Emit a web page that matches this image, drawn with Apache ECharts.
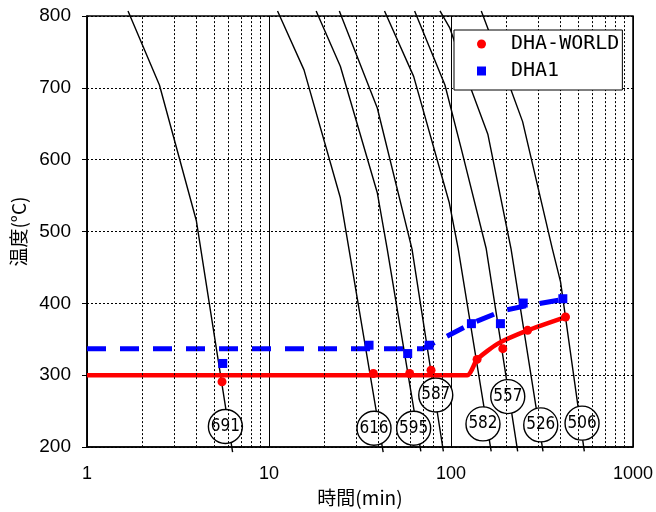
<!DOCTYPE html>
<html><head><meta charset="utf-8">
<script src="https://cdn.jsdelivr.net/npm/echarts@6/dist/echarts.min.js"></script>
<style>html,body{margin:0;padding:0;background:#fff}#c{width:656px;height:512px}</style>
</head><body><div id="c"></div>
<script>
// ---- data ----
const xTickLabels = ['1', '10', '100', '1000'];
const minorGridX = [2,3,4,5,6,7,8,9,20,30,40,50,60,70,80,90,200,300,400,500,600,700,800,900];

// cooling curves [time(min), temperature(°C)]
const curve691 = [[1.68,807],[2.50,704],[3.99,515],[6.31,193]];
const curve616 = [[11.14,807],[15.57,725],[24.66,547],[42.4,193]];
const curve595 = [[18.16,807],[24.66,730],[39.36,554],[44.61,476],[68.3,194]];
const curve587 = [[24.35,807],[39.36,672],[61.04,476],[90.8,194]];
const curve582 = [[43.13,807],[62.35,716],[97.88,540],[109.6,476],[166.3,194]];
const curve557 = [[63.12,807],[92.64,704],[114.2,614],[156.2,476],[232.5,194]];
const curve526 = [[87.0,807],[98.6,783],[129.5,697],[159.6,635],[213.8,476],[320.4,194]];
const curve506 = [[146.7,807],[213.8,697],[247.5,653],[360.6,476],[400.0,430],[540.2,194]];

// circled hardness labels
const labelNames = ['691','616','595','587','582','557','526','506'];
const labelX = [5.76, 37.76, 62.35, 82.47, 149.9, 205.1, 311.3, 525.0];
const labelT = [228.7, 226.3, 226.3, 272.5, 232.3, 270.3, 230.9, 233.3];

// DHA-WORLD
const worldX = [5.52, 37.43, 59.3, 77.7, 139.1, 192.6, 263.6, 425.9];
const worldT = [291, 302.5, 302.5, 307, 322, 337, 362.5, 381];
const worldFitX = [1, 122.7, 139.1, 181, 263.6, 425.9];
const worldFitT = [300, 300, 322, 344, 362.5, 381];

// DHA1
const dha1X = [5.57, 35.46, 57.83, 75.8, 129.5, 186.9, 249.4, 411.7];
const dha1T = [316.4, 341.8, 330.2, 341.8, 371.8, 371.8, 400.5, 406.5];
const dha1FitX = [1, 70, 129.5, 192.6, 263.6, 435];
const dha1FitT = [337, 337, 372, 390, 397, 406.5];

// ---- chart ----
const narrow = "'DejaVu Sans Condensed','Liberation Sans',sans-serif";
const mono = "'DejaVu Sans Mono','Liberation Mono',monospace";
const cjk = "'Noto Sans CJK JP','Noto Sans',sans-serif";
const zip = (xs, ys) => xs.map((x, i) => [x, ys[i]]);

const curves = [curve691, curve616, curve595, curve587, curve582, curve557, curve526, curve506];
const curveSeries = curves.map((c, i) => ({
  type: 'line', name: 'c' + i, data: c, symbol: 'none', clip: false, silent: true, z: 2,
  lineStyle: { color: '#000', width: 1.4 }
}));

const chart = echarts.init(document.getElementById('c'), null, { renderer: 'canvas' });
chart.setOption({
  animation: false,
  backgroundColor: '#fff',
  grid: { left: 87, right: 18, top: 16, bottom: 63, show: true, borderColor: '#000', borderWidth: 1.5, backgroundColor: 'transparent' },
  legend: {
    data: [{ name: 'DHA-WORLD', icon: 'circle' }, { name: 'DHA1', icon: 'rect' }],
    orient: 'vertical', left: 454, top: 30, z: 10,
    itemWidth: 9, itemHeight: 9, itemGap: 7,
    padding: [4, 3, 9, 23],
    backgroundColor: '#fff', borderColor: '#000', borderWidth: 1,
    textStyle: { fontSize: 20, fontFamily: mono, color: '#000', lineHeight: 20, padding: [0, 0, 0, 20] }
  },
  xAxis: {
    type: 'log', logBase: 10, min: 1, max: 1000,
    axisLine: { show: true, lineStyle: { color: '#000', width: 1.5 } },
    axisTick: { show: false },
    splitLine: { show: true, lineStyle: { color: '#000', width: 1, type: 'solid' } },
    axisLabel: { fontSize: 18, color: '#000', margin: 18, fontFamily: "'Liberation Sans',sans-serif",
      formatter: v => xTickLabels[Math.round(Math.log10(v))] },
    name: '時間(min)', nameLocation: 'middle', nameGap: 38,
    nameTextStyle: { fontSize: 19, color: '#000', fontFamily: cjk }
  },
  yAxis: {
    type: 'value', min: 200, max: 800, interval: 100,
    axisLine: { show: true, lineStyle: { color: '#000', width: 1.5 } },
    axisTick: { show: true, inside: false, length: 5, lineStyle: { color: '#000' } },
    splitLine: { show: true, lineStyle: { color: '#000', width: 1, type: [2, 2] } },
    axisLabel: { fontSize: 19, color: '#000', margin: 16, fontFamily: "'Liberation Sans',sans-serif" },
    name: '温度(°C)', nameLocation: 'middle', nameRotate: 90, nameGap: 58,
    nameTextStyle: { fontSize: 19, color: '#000', fontFamily: cjk }
  },
  series: [
    {
      type: 'line', name: 'minorGrid', data: [], silent: true, z: 1,
      markLine: {
        silent: true, symbol: ['none', 'none'], label: { show: false }, animation: false,
        lineStyle: { color: '#000', width: 1, type: [2, 2] },
        data: minorGridX.map(v => ({ xAxis: v }))
      }
    },
    ...curveSeries,
    {
      type: 'scatter', name: 'labels', z: 3, silent: true,
      data: labelNames.map((n, i) => ({ name: n, value: [labelX[i], labelT[i]] })),
      symbol: 'circle', symbolSize: 34,
      itemStyle: { color: '#fff', borderColor: '#000', borderWidth: 1.4, opacity: 1 },
      label: { show: true, position: 'inside', formatter: p => p.name, color: '#000', fontSize: 17, fontFamily: narrow }
    },
    {
      type: 'line', name: 'worldFit', data: zip(worldFitX, worldFitT), symbol: 'none', z: 4, smooth: 0.2,
      lineStyle: { color: '#ff0000', width: 4.5 }
    },
    {
      type: 'line', name: 'dha1Fit', data: zip(dha1FitX, dha1FitT), symbol: 'none', z: 4,
      lineStyle: { color: '#0000ff', width: 5, type: [19, 14] }
    },
    {
      type: 'scatter', name: 'DHA-WORLD', data: zip(worldX, worldT), symbol: 'circle', symbolSize: 9, z: 5,
      itemStyle: { color: '#ff0000', opacity: 1 }
    },
    {
      type: 'scatter', name: 'DHA1', data: zip(dha1X, dha1T), symbol: 'rect', symbolSize: 9, z: 5,
      itemStyle: { color: '#0000ff', opacity: 1 }
    }
  ]
});
</script>
</body></html>
